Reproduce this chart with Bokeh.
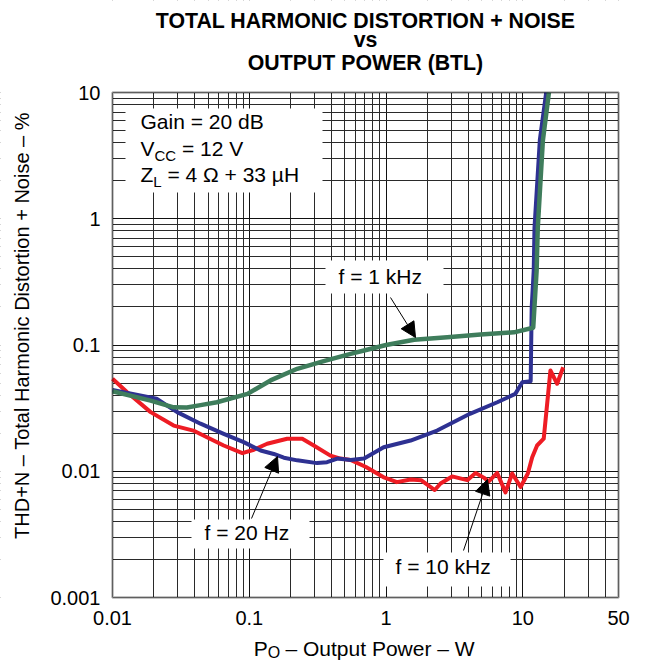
import math
from bokeh.plotting import figure
from bokeh.models import Range1d, FixedTicker, Label, Arrow, NormalHead, BoxAnnotation
from bokeh.embed import file_html
from bokeh.resources import INLINE

# ---------------- data ----------------
# f = 20 Hz (blue)
po_20hz = [0.01, 0.021, 0.0297, 0.044, 0.065, 0.091, 0.121, 0.151, 0.179, 0.224, 0.313, 0.37,
           0.44, 0.55, 0.69, 0.96, 1.51, 2.36, 4.1, 6.5, 8.8, 9.9, 11.4, 11.6, 12.0, 12.16, 13.3, 14.8]
thd_20hz = [0.044, 0.0375, 0.0294, 0.0238, 0.0198, 0.017, 0.0146, 0.0137, 0.0128, 0.0122, 0.0116, 0.0118,
            0.0126, 0.0123, 0.0126, 0.0155, 0.0175, 0.021, 0.0285, 0.0352, 0.041, 0.0507, 0.0517, 0.2, 0.389, 0.85, 4.2, 10]

# f = 1 kHz (green)
po_1khz = [0.01, 0.019, 0.028, 0.035, 0.044, 0.058, 0.097, 0.143, 0.224, 0.35, 0.55, 0.69, 1.0, 1.6,
           2.8, 4.9, 8.6, 11.9, 12.6, 12.85, 14.0, 15.5]
thd_1khz = [0.043, 0.0363, 0.0321, 0.032, 0.0334, 0.0352, 0.041, 0.0524, 0.0648, 0.0745, 0.085, 0.0904,
            0.1, 0.11, 0.115, 0.121, 0.126, 0.137, 0.389, 0.85, 4.17, 10]

# f = 10 kHz (red)
po_10khz = [0.01, 0.0128, 0.019, 0.028, 0.039, 0.049, 0.065, 0.089, 0.108, 0.135, 0.189, 0.244, 0.296,
            0.392, 0.464, 0.55, 0.713, 0.953, 1.2, 1.51, 1.8, 2.27, 2.5, 3.04, 3.92, 4.51, 5.18, 5.63,
            6.49, 7.46, 8.35, 9.62, 10.87, 11.7, 12.7, 14.2, 15.9, 17.8, 19.7]
thd_10khz = [0.054, 0.0423, 0.0294, 0.023, 0.021, 0.0186, 0.016, 0.0139, 0.0148, 0.0165, 0.0181, 0.0181, 0.016,
             0.0133, 0.0126, 0.0123, 0.0108, 0.009, 0.0082, 0.0086, 0.0085, 0.0071, 0.008, 0.0091, 0.0085, 0.0097,
             0.0089, 0.0083, 0.0097, 0.0068, 0.0096, 0.0075, 0.0096, 0.0129, 0.016, 0.0181, 0.0628, 0.0493, 0.0667]

x_ticks = [0.01, 0.1, 1, 10, 50]
x_tick_labels = ["0.01", "0.1", "1", "10", "50"]
y_ticks = [0.001, 0.01, 0.1, 1, 10]
y_tick_labels = ["0.001", "0.01", "0.1", "1", "10"]
x_minor = [m * 10.0 ** e for e in (-2, -1, 0) for m in range(2, 10)] + [20, 30, 40]
y_minor = [m * 10.0 ** e for e in (-3, -2, -1, 0) for m in range(2, 10)]

# ---------------- layout ----------------
XMIN, XMAX, YMIN, YMAX = 0.01, 50, 0.001, 10
FL, FT, FW, FH = 112, 92, 506, 505   # plot box position on the page (px)
W, H, M = 648, 661, 0                # canvas size and page offset (Bokeh's page has no body margin)
FONT = "Liberation Sans"
MID = 0.3465                         # em offset from baseline to the middle of the text box


def xd(px):
    return 10 ** (math.log10(XMIN) + (px - FL) / FW * math.log10(XMAX / XMIN))


def yd(py):
    return 10 ** (math.log10(YMAX) - (py - FT) / FH * math.log10(YMAX / YMIN))


# the frame covers the whole canvas so that all texts can be placed freely
p = figure(x_axis_type="log", y_axis_type="log",
           x_range=Range1d(xd(M), xd(M + W)), y_range=Range1d(yd(M + H), yd(M)),
           width=W, height=H, min_border=0,
           output_backend="svg", toolbar_location=None, title=None)
p.min_border_left = p.min_border_right = p.min_border_top = p.min_border_bottom = 0
p.background_fill_color = "white"
p.border_fill_color = "white"
p.outline_line_color = None

for ax, ticks, labels, loc, bnd in ((p.xaxis[0], x_ticks, x_tick_labels, YMIN, (XMIN, XMAX)),
                                    (p.yaxis[0], y_ticks, y_tick_labels, XMIN, (YMIN, YMAX))):
    ax.fixed_location = loc
    ax.bounds = bnd
    ax.ticker = FixedTicker(ticks=ticks)
    ax.major_label_overrides = dict(zip(ticks, labels))
    ax.major_tick_line_color = None
    ax.minor_tick_line_color = None
    ax.axis_line_color = None
    ax.major_tick_out = 0
    ax.major_tick_in = 0
    ax.minor_tick_out = 0
    ax.minor_tick_in = 0
    ax.major_label_text_font = FONT
    ax.major_label_text_font_size = "20px"
    ax.major_label_text_color = "black"
p.xaxis[0].major_label_standoff = 13
p.yaxis[0].major_label_standoff = 12

p.xgrid[0].ticker = FixedTicker(ticks=x_ticks, minor_ticks=x_minor)
p.ygrid[0].ticker = FixedTicker(ticks=y_ticks, minor_ticks=y_minor)
for g in (p.xgrid[0], p.ygrid[0]):
    g.grid_line_color = "#111111"
    g.grid_line_width = 1
    g.minor_grid_line_color = "#2a2a2a"
    g.minor_grid_line_width = 1

# white masks around the plot box (hide grid lines outside it)
for kw in (dict(bottom=YMAX), dict(top=YMIN), dict(right=XMIN), dict(left=XMAX)):
    p.add_layout(BoxAnnotation(fill_color="white", fill_alpha=1, line_color=None, level="underlay", **kw))

# white boxes behind annotation texts
for (l, r, t, b) in ((125, 322, 108, 192), (325, 443, 260, 293), (191, 309, 519, 548), (383, 510, 552, 586)):
    p.add_layout(BoxAnnotation(left=xd(l), right=xd(r), top=yd(t), bottom=yd(b),
                               fill_color="white", fill_alpha=1, line_color=None, level="underlay"))

# curves
p.line(po_10khz, thd_10khz, line_color="#ee1c24", line_width=4, line_join="round")
p.line(po_20hz, thd_20hz, line_color="#2e3192", line_width=4, line_join="round")
p.line(po_1khz, thd_1khz, line_color="#3f7d5c", line_width=4.5, line_join="round")

# plot box border
p.add_layout(BoxAnnotation(left=XMIN, right=XMAX, bottom=YMIN, top=YMAX, fill_alpha=0,
                           line_color="black", line_width=2.5))


def lab(text, px, py, size=21, bold=False, align="left", rotated=False):
    """px, py: page position of the text's baseline (left end / centre)."""
    if rotated:
        x, y, angle = px - MID * size, py, math.pi / 2
    else:
        x, y, angle = px, py - MID * size, 0.0
    p.add_layout(Label(x=xd(x), y=yd(y), text=text, text_font=FONT, text_font_size=f"{size}px",
                       text_font_style="bold" if bold else "normal", text_align=align,
                       text_baseline="middle", angle=angle, text_color="black"))


# title
lab("TOTAL HARMONIC DISTORTION + NOISE", 365, 27.5, size=21.3, bold=True, align="center")
lab("vs", 365, 47, size=21.3, bold=True, align="center")
lab("OUTPUT POWER (BTL)", 365, 70, size=21.3, bold=True, align="center")

# conditions box
lab("Gain = 20 dB", 140, 128)
lab("V", 140, 155)
lab("CC", 154, 160, size=15)
lab("= 12 V", 181.5, 155)
lab("Z", 140, 181)
lab("L", 152.8, 186, size=15)
lab("= 4 \u03a9 + 33 \u00b5H", 166.9, 181)

# curve labels
lab("f = 1 kHz", 338, 283)
lab("f = 20 Hz", 204, 539)
lab("f = 10 kHz", 395, 573)

# arrows
for (x0, y0, x1, y1) in ((390, 297, 415, 337), (251, 518, 277, 456), (463, 550, 487, 479)):
    p.add_layout(Arrow(end=NormalHead(size=15, fill_color="black", line_color="black", line_width=1),
                       x_start=xd(x0), y_start=yd(y0), x_end=xd(x1), y_end=yd(y1),
                       line_color="black", line_width=1))

# axis titles
lab("P", 253.3, 655.5, size=21)
lab("O", 267.3, 657.5, size=16)
lab("\u2013 Output Power \u2013 W", 285, 655.5, size=21)
lab("THD+N \u2013 Total Harmonic Distortion + Noise \u2013 %", 28, 325, size=20, align="center", rotated=True)

open("out.html", "w").write(file_html(p, INLINE))
